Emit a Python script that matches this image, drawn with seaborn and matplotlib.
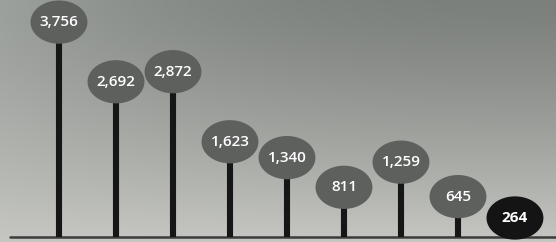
import numpy as np
import seaborn as sns
import matplotlib.pyplot as plt
from matplotlib.path import Path

values = [3756, 2692, 2872, 1623, 1340, 811, 1259, 645, 264]
labels = ["3,756", "2,692", "2,872", "1,623", "1,340", "811", "1,259", "645", "264"]
head_colors = ["#5e605e"] * 8 + ["#141414"]
text_weights = ["semibold"] * 8 + ["bold"]

sns.set_theme(style="white")
plt.rcParams['font.family'] = ['Open Sans', 'DejaVu Sans']

fig = plt.figure(figsize=(5.56, 2.42), dpi=100)
ax = fig.add_axes([0, 0, 1, 1])

# background gradient (darker top, lighter bottom, a bit lighter on the left)
ny, nx = 120, 280
yy, xx = np.mgrid[0:1:ny * 1j, 0:1:nx * 1j]
top = np.array([124, 128, 124]) / 255
bot = np.array([198, 199, 194]) / 255
t = yy ** 1.3
img = top + (bot - top) * t[..., None]
img = img + (0.13 * (1 - xx) ** 2.5 * (1 - yy))[..., None]
img = np.clip(img, 0, 1)
ax.imshow(img, extent=[-1.035, 8.72, -164, 4150], aspect="auto", zorder=0)

x = np.arange(len(values))
base = -75

ax.axhline(base, xmin=0.018, xmax=1, color="#3c3c3c", lw=1.8, zorder=1)
ax.vlines(x, base, values, color="#161616", lw=4.4, zorder=2)

# elliptical heads
theta = np.linspace(0, 2 * np.pi, 60)
ell = Path(np.column_stack([np.cos(theta), 0.76 * np.sin(theta)]), closed=True)
sns.scatterplot(x=x, y=values, marker=ell, s=41 ** 2, hue=x, palette=head_colors,
                edgecolor="none", linewidth=0, legend=False, zorder=3, ax=ax)

for xi, v, lab, w in zip(x, values, labels, text_weights):
    ax.text(xi, v, lab, ha="center", va="center", color="white",
            fontsize=11, fontweight=w, zorder=4)

ax.set_xlim(-1.035, 8.72)
ax.set_ylim(-164, 4150)
ax.axis("off")

fig.savefig("out.png", dpi=100)
